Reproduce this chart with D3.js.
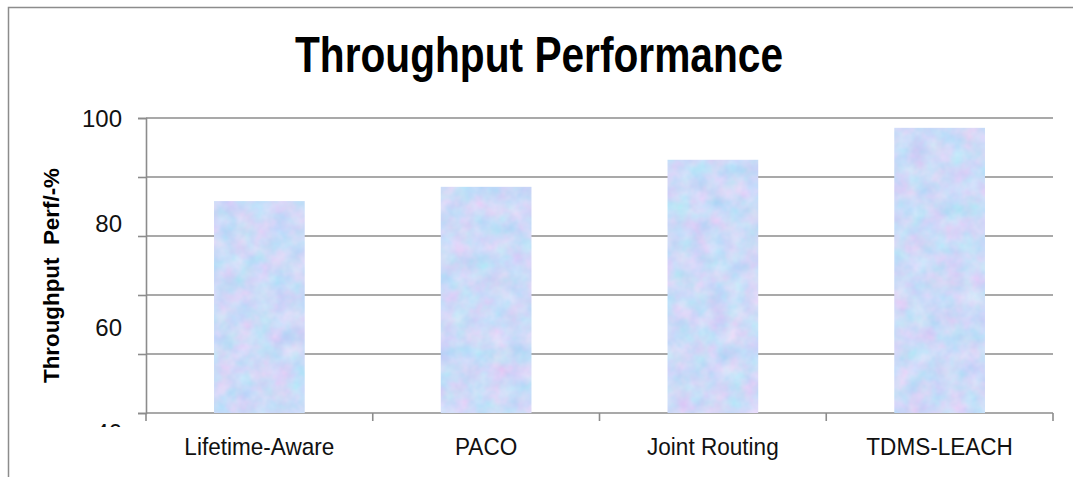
<!DOCTYPE html>
<html>
<head>
<meta charset="utf-8">
<script src="https://cdn.jsdelivr.net/npm/d3@7"></script>
<style>
  body { margin: 0; background: #fff; }
  svg { display: block; font-family: "Liberation Sans", Arial, sans-serif; }
</style>
</head>
<body>
<script>
"use strict";

// chart values
const categories = ["Lifetime-Aware", "PACO", "Joint Routing", "TDMS-LEACH"];
const throughput = [83.1, 86.0, 91.5, 98.0];
const gridValues = [40, 52, 64, 76, 88, 100];
const yTickLabels = [100, 80, 60, 40];

(function(){

  window.addEventListener("load", init);

  const measurements = {
    width: 1073,
    height: 477,
    left: 146,
    right: 1053,
    top: 118,
    bottom: 413
  };

  let svgContainer = "";

  function init() {
    svgContainer = d3.select("body").append("svg")
      .attr("width", measurements.width)
      .attr("height", measurements.height);

    makeDefs();

    // outer frame (clipped at right / bottom like the picture)
    svgContainer.append("path")
      .attr("d", "M8.5," + measurements.height + "V7.5H" + measurements.width)
      .attr("fill", "none")
      .attr("stroke", "#8c8c8c")
      .attr("stroke-width", 1.5);

    const scaleX = d3.scaleBand()
      .domain(categories)
      .range([measurements.left, measurements.right])
      .paddingInner(0.6)
      .paddingOuter(0.3);

    const scaleY = d3.scaleLinear()
      .domain([40, 100])
      .range([measurements.bottom, measurements.top]);

    // the value labels sit on their own slightly stretched spacing
    const labelY = d3.scaleLinear()
      .domain([40, 100])
      .range([432, 118.5]);

    drawAxes(scaleX, scaleY, labelY);
    plotData(scaleX, scaleY);

    // title
    svgContainer.append("text")
      .attr("x", 539)
      .attr("y", 72)
      .attr("text-anchor", "middle")
      .attr("font-size", 50)
      .attr("font-weight", "bold")
      .attr("textLength", 488)
      .attr("lengthAdjust", "spacingAndGlyphs")
      .text("Throughput Performance");

    // y label
    svgContainer.append("text")
      .attr("transform", "translate(59,275.5) rotate(-90)")
      .attr("text-anchor", "middle")
      .attr("font-size", 22)
      .attr("font-weight", "bold")
      .attr("textLength", 215)
      .attr("lengthAdjust", "spacingAndGlyphs")
      .style("white-space", "pre")
      .text("Throughput  Perf/-%");
  }

  function makeDefs() {
    const defs = svgContainer.append("defs");

    // pastel marble texture for the bars
    const f = defs.append("filter")
      .attr("id", "marble")
      .attr("x", 0).attr("y", 0)
      .attr("width", 1).attr("height", 1)
      .attr("color-interpolation-filters", "sRGB");
    f.append("feTurbulence")
      .attr("type", "fractalNoise")
      .attr("baseFrequency", 0.055)
      .attr("numOctaves", 3)
      .attr("seed", 7)
      .attr("result", "noise");
    f.append("feColorMatrix")
      .attr("in", "noise")
      .attr("type", "matrix")
      .attr("values",
        "0.26 0 0 -0.07 0.705 " +
        "-0.05 0.10 0 -0.07 0.865 " +
        "0 0 0.03 -0.03 0.97 " +
        "0 0 0 0 1")
      .attr("result", "tint");
    f.append("feComposite")
      .attr("in", "tint")
      .attr("in2", "SourceGraphic")
      .attr("operator", "in");

    defs.append("clipPath")
      .attr("id", "labelClip")
      .append("rect")
      .attr("x", 0).attr("y", 0)
      .attr("width", 140).attr("height", 427);
  }

  function drawAxes(scaleX, scaleY, labelY) {
    // gridlines
    svgContainer.append("g")
      .selectAll("line")
      .data(gridValues.filter((v) => v > 40))
      .enter()
      .append("line")
      .attr("x1", measurements.left)
      .attr("x2", measurements.right)
      .attr("y1", (d) => scaleY(d))
      .attr("y2", (d) => scaleY(d))
      .attr("stroke", "#8c8c8c")
      .attr("stroke-width", 1.6);

    // y axis with ticks only
    const yAxis = d3.axisLeft(scaleY)
      .tickValues(gridValues)
      .tickSize(8)
      .tickFormat("");
    const gy = svgContainer.append("g")
      .attr("transform", "translate(" + measurements.left + ",0)")
      .call(yAxis);
    gy.select(".domain").attr("stroke", "#8c8c8c").attr("stroke-width", 1.6);
    gy.selectAll(".tick line").attr("stroke", "#8c8c8c").attr("stroke-width", 1.6);

    // y tick labels
    svgContainer.append("g")
      .attr("clip-path", "url(#labelClip)")
      .selectAll("text")
      .data(yTickLabels)
      .enter()
      .append("text")
      .attr("x", 122)
      .attr("y", (d) => labelY(d))
      .attr("dy", "0.36em")
      .attr("text-anchor", "end")
      .attr("font-size", 24)
      .attr("fill", "#111")
      .text((d) => d);

    // x axis: ticks at category boundaries
    const bounds = categories.map((c) => scaleX(c) - scaleX.step() * scaleX.paddingOuter());
    bounds.push(measurements.right);
    const gx = svgContainer.append("g");
    gx.append("line")
      .attr("x1", measurements.left)
      .attr("x2", measurements.right)
      .attr("y1", measurements.bottom)
      .attr("y2", measurements.bottom)
      .attr("stroke", "#8c8c8c")
      .attr("stroke-width", 1.6);
    gx.selectAll(".xtick")
      .data(bounds)
      .enter()
      .append("line")
      .attr("x1", (d) => d)
      .attr("x2", (d) => d)
      .attr("y1", measurements.bottom)
      .attr("y2", measurements.bottom + 8)
      .attr("stroke", "#8c8c8c")
      .attr("stroke-width", 1.6);

    gx.selectAll(".xlabel")
      .data(categories)
      .enter()
      .append("text")
      .attr("x", (d) => scaleX(d) + scaleX.bandwidth() / 2)
      .attr("y", 455)
      .attr("text-anchor", "middle")
      .attr("font-size", 24)
      .attr("fill", "#111")
      .attr("transform", (d) => {
        const cx = scaleX(d) + scaleX.bandwidth() / 2;
        return "translate(" + cx + ",0) scale(0.94,1) translate(" + (-cx) + ",0)";
      })
      .text((d) => d);
  }

  function plotData(scaleX, scaleY) {
    svgContainer.append("g")
      .selectAll("rect")
      .data(throughput)
      .enter()
      .append("rect")
      .attr("x", (d, i) => scaleX(categories[i]))
      .attr("y", (d) => scaleY(d))
      .attr("width", scaleX.bandwidth())
      .attr("height", (d) => scaleY(40) - scaleY(d))
      .attr("fill", "#c8d8f6")
      .attr("filter", "url(#marble)");
  }

})();
</script>
</body>
</html>
